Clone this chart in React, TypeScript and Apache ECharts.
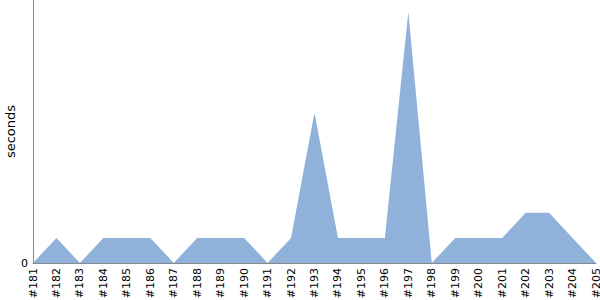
import React, { useEffect, useRef } from "react";
import * as echarts from "echarts";

const categories = [
  "#181", "#182", "#183", "#184", "#185", "#186", "#187", "#188", "#189", "#190",
  "#191", "#192", "#193", "#194", "#195", "#196", "#197", "#198", "#199", "#200",
  "#201", "#202", "#203", "#204", "#205",
];
const seconds = [0, 1, 0, 1, 1, 1, 0, 1, 1, 1, 0, 1, 6, 1, 1, 1, 10, 0, 1, 1, 1, 2, 2, 1, 0];

export default function App() {
  const ref = useRef<HTMLDivElement>(null);
  useEffect(() => {
    const chart = echarts.init(ref.current!, null, { renderer: "svg" });
    chart.setOption({
      animation: false,
      grid: { left: 33, right: 4, top: 0, bottom: 37, containLabel: false, outerBoundsMode: "none" },
      xAxis: {
        type: "category",
        boundaryGap: false,
        data: categories,
        axisLine: { lineStyle: { color: "#888888" } },
        axisTick: { show: false },
        axisLabel: {
          rotate: 90,
          interval: 0,
          color: "#000",
          fontSize: 11,
          fontFamily: "DejaVu Sans",
          margin: 5,
        },
      },
      yAxis: {
        type: "value",
        min: 0,
        max: 10.48,
        interval: 10.48,
        name: "seconds",
        nameLocation: "middle",
        nameGap: 16,
        nameMoveOverlap: false,
        nameTextStyle: { color: "#000", fontSize: 13, fontFamily: "DejaVu Sans" },
        axisLine: { show: true, lineStyle: { color: "#888888" } },
        axisTick: { show: false },
        splitLine: { show: false },
        axisLabel: {
          color: "#000",
          fontSize: 11,
          fontFamily: "DejaVu Sans",
          margin: 5,
          formatter: (v: number) => (v === 0 ? "0" : ""),
        },
      },
      series: [
        {
          type: "line",
          data: seconds,
          symbol: "none",
          lineStyle: { width: 0 },
          areaStyle: { color: "#8fb1da", opacity: 1 },
        },
      ],
    });
    return () => chart.dispose();
  }, []);
  return <div ref={ref} style={{ width: 600, height: 300, position: "absolute", left: 0, top: 0 }} />;
}
